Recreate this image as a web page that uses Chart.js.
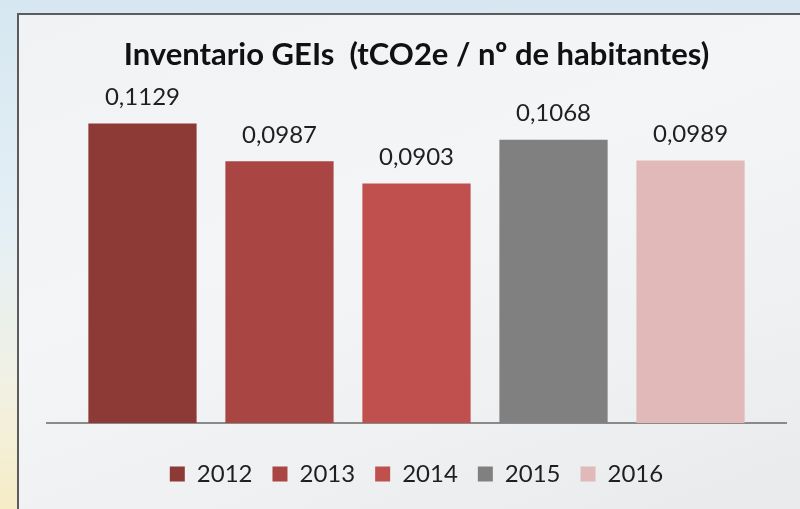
<!DOCTYPE html>
<html>
<head>
<meta charset="utf-8">
<script src="https://cdn.jsdelivr.net/npm/chart.js@4.4.1/dist/chart.umd.min.js"></script>
<style>
  html, body { margin: 0; padding: 0; }
  body {
    width: 800px; height: 509px; overflow: hidden; position: relative;
    background: linear-gradient(180deg, #d6e7f1 0%, #e4eff5 45%, #f1f1e4 75%, #f6ecc6 100%);
  }
  #panel {
    position: absolute; left: 17px; top: 13px; width: 800px; height: 520px;
    border-left: 2px solid #5c5c5c; border-top: 2px solid #5c5c5c;
    background: linear-gradient(160deg, #f1f2f4 0%, #f4f5f7 40%, #eff0f2 70%, #e8e9eb 100%);
  }
  #chart { position: absolute; left: 0; top: 0; }
</style>
</head>
<body>
<div id="panel"></div>
<canvas id="chart" width="800" height="509"></canvas>
<script>
// ============= Dados =============
const years = ["2012", "2013", "2014", "2015", "2016"];
const values = [0.1129, 0.0987, 0.0903, 0.1068, 0.0989];
const colors = ["#8d3936", "#a94644", "#c0504d", "#808080", "#e1b9b9"];

const fontFamily = "Lato, 'Open Sans', sans-serif";

// etiquetas com os valores acima de cada barra
const valueLabels = {
  id: "valueLabels",
  afterDatasetsDraw(chart) {
    const ctx = chart.ctx;
    ctx.save();
    ctx.font = "24px " + fontFamily;
    ctx.fillStyle = "#1f1f1f";
    ctx.textAlign = "center";
    ctx.textBaseline = "middle";
    chart.data.datasets.forEach((ds, i) => {
      const bar = chart.getDatasetMeta(i).data[0];
      ctx.fillText(ds.data[0].toFixed(4).replace(".", ","), bar.x, bar.y - 26);
    });
    ctx.restore();
  }
};

new Chart(document.getElementById("chart"), {
  type: "bar",
  data: {
    labels: [""],
    datasets: years.map((y, i) => ({
      label: y,
      data: [values[i]],
      backgroundColor: colors[i]
    }))
  },
  options: {
    responsive: false,
    animation: false,
    layout: { padding: { left: 47, right: 14, top: 0, bottom: 13 } },
    datasets: { bar: { barPercentage: 0.79, categoryPercentage: 0.927 } },
    scales: {
      x: {
        grid: { display: false, drawTicks: false },
        ticks: { display: false },
        border: { display: true, color: "#8a8a8a", width: 2 },
        title: { display: true, text: "", font: { size: 10 }, padding: { top: 7, bottom: 0 } }
      },
      y: { display: false, min: 0, max: 0.1277 }
    },
    plugins: {
      title: {
        display: true,
        text: "Inventario GEIs  (tCO2e / nº de habitantes)",
        color: "#111",
        font: { family: fontFamily, size: 31, weight: "bold" },
        padding: { top: 36, bottom: 11 }
      },
      legend: {
        position: "bottom",
        labels: {
          color: "#1f1f1f",
          font: { family: fontFamily, size: 24 },
          boxWidth: 15,
          boxHeight: 15,
          padding: 20
        }
      },
      tooltip: { enabled: false }
    }
  },
  plugins: [valueLabels]
});
</script>
</body>
</html>
